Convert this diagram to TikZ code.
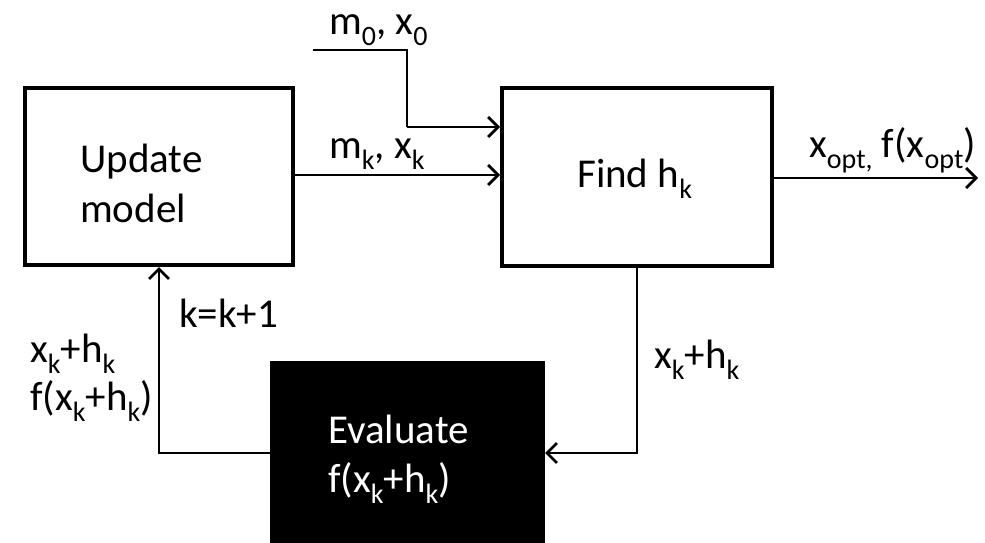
\documentclass[tikz,border=0pt]{standalone}
\usepackage{fontspec}
\setmainfont{Carlito}
\usetikzlibrary{arrows.meta}
\newcommand\sbs[1]{\raisebox{-11pt}{\fontsize{28}{28}\selectfont #1}}
\tikzset{
  blk/.style={draw=black,line width=4pt,fill=white,inner sep=0pt},
  evalbox/.style={draw=black,line width=4pt,fill=black,inner sep=0pt},
  conn/.style={line width=2.8pt,-{Straight Barb[length=10pt,width=20pt]}},
  plain/.style={line width=2.8pt},
  lbl/.style={anchor=base west,inner sep=0pt,font=\fontsize{41}{48}\selectfont},
}
\begin{document}
\begin{tikzpicture}[x=1pt,y=-1pt]
\useasboundingbox (0,0) rectangle (985,543);
\clip (0,0) rectangle (985,543);
\node[blk,minimum width=268pt,minimum height=177pt] (update) at (159,176.5) {};
\node[blk,minimum width=270pt,minimum height=178pt] (find) at (637,176.5) {};
\node[evalbox,minimum width=271pt,minimum height=200pt] (eval) at (407.5,463) {};
% texts
\node[lbl] (tupd) at (80,172) {Update};
\node[lbl] (tmod) at (80,222) {model};
\node[lbl] (tfind) at (577,187) {Find h\sbs{k}};
\node[lbl,text=white] (tev) at (328,443) {Evaluate};
\node[lbl,text=white] (tevf) at (328,492) {f(x\sbs{k}+h\sbs{k})};
\node[lbl] (tm0) at (329,35) {m\sbs{0}, x\sbs{0}};
\node[lbl] (tmk) at (329,158) {m\sbs{k}, x\sbs{k}};
\node[lbl] (topt) at (809,157) {x\sbs{opt,} f(x\sbs{opt})};
\node[lbl] (tkk) at (179,327) {k=k+1};
\node[lbl] (tl1) at (30,362) {x\sbs{k}+h\sbs{k}};
\node[lbl] (tl2) at (30,410) {f(x\sbs{k}+h\sbs{k})};
\node[lbl] (tr1) at (654,368) {x\sbs{k}+h\sbs{k}};
% connectors
\coordinate (m0s) at (313,50);
\coordinate (m0c) at (407,127);
\draw[plain] (m0s) -| (m0c);
\draw[conn] (m0c) -- (m0c -| find.west);
\coordinate (mky) at (0,175);
\draw[conn] (update.east |- mky) -- (find.west |- mky);
\coordinate (outend) at (978,178);
\draw[conn] (find.east |- outend) -- (outend);
\coordinate (fby) at (0,453);
\draw[conn] (find.south) |- (eval.east |- fby);
\draw[conn] (eval.west |- fby) -| (update.south);
\end{tikzpicture}
\end{document}
